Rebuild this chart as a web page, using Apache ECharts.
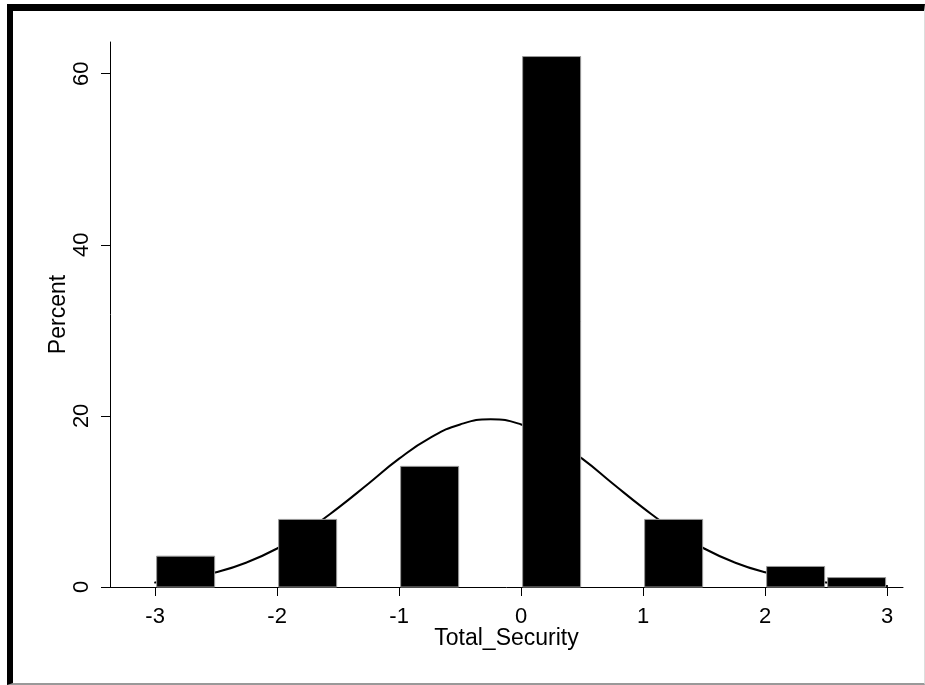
<!DOCTYPE html>
<html>
<head>
<meta charset="utf-8">
<script src="https://cdn.jsdelivr.net/npm/echarts@6/dist/echarts.min.js"></script>
<style>
html, body { margin: 0; padding: 0; background: #fff; }
#chart { position: absolute; left: 0; top: 0; width: 925px; height: 685px; }
#frame { position: absolute; left: 7px; top: 4px; width: 918px; height: 681px; box-sizing: border-box;
  border-top: 7px solid #000; border-left: 6px solid #000; border-bottom: 2px solid #999; border-right: 1px solid #ddd; pointer-events: none; }
</style>
</head>
<body>
<div id="chart"></div>
<div id="frame"></div>
<script>
// Histogram bins (left edge, right edge) and percent heights
const binStart = [-3, -2, -1, 0, 1, 2, 2.5];
const binEnd   = [-2.5, -1.5, -0.5, 0.5, 1.5, 2.5, 3];
const percent  = [3.6, 7.9, 14.1, 62.0, 7.9, 2.4, 1.1];

// Overlaid normal-density curve
const curveX = [-3, -2.75, -2.5, -2.25, -2, -1.75, -1.5, -1.25, -1, -0.75, -0.5, -0.25, 0, 0.25, 0.5, 0.75, 1, 1.25, 1.5, 1.75, 2, 2.25, 2.5, 2.75, 3];
const curveY = [0.52, 0.97, 1.72, 2.87, 4.5, 6.65, 9.25, 12.1, 15.0, 17.4, 19.0, 19.6, 19.0, 17.4, 15.0, 12.1, 9.25, 6.65, 4.5, 2.87, 1.72, 0.97, 0.52, 0.26, 0.12];

const xTicks = [-3, -2, -1, 0, 1, 2, 3];
const yTicks = [0, 20, 40, 60];

const barData = binStart.map((s, i) => [s, binEnd[i], percent[i]]);
const lineData = curveX.map((x, i) => [x, curveY[i]]);

const font = '"Liberation Sans", Arial, Helvetica, sans-serif';
const chart = echarts.init(document.getElementById('chart'), null, { renderer: 'canvas' });
chart.setOption({
  animation: false,
  backgroundColor: '#fff',
  grid: { left: 110, right: 22, top: 42, bottom: 98 },
  xAxis: {
    type: 'value', min: -3.37, max: 3.13,
    name: 'Total_Security', nameLocation: 'middle', nameGap: 40, nameMoveOverlap: false,
    nameTextStyle: { fontFamily: font, fontSize: 23, color: '#000' },
    axisLine: { show: true, onZero: false, lineStyle: { color: '#000', width: 1 } },
    axisTick: { show: true, inside: false, length: 9, customValues: xTicks, lineStyle: { color: '#000' } },
    axisLabel: { customValues: xTicks, margin: 19, fontFamily: font, fontSize: 22, color: '#000' },
    splitLine: { show: false }
  },
  yAxis: {
    type: 'value', min: 0, max: 63.7,
    name: 'Percent', nameLocation: 'middle', nameGap: 40, nameMoveOverlap: false,
    nameTextStyle: { fontFamily: font, fontSize: 23, color: '#000' },
    axisLine: { show: true, onZero: false, lineStyle: { color: '#000', width: 1 } },
    axisTick: { show: true, inside: false, length: 9, customValues: yTicks, lineStyle: { color: '#000' } },
    axisLabel: { customValues: yTicks, rotate: 90, margin: 17, fontFamily: font, fontSize: 22, color: '#000' },
    splitLine: { show: false }
  },
  series: [
    {
      type: 'line', data: lineData, smooth: true, symbol: 'none',
      lineStyle: { color: '#000', width: 2, cap: 'round' }, z: 2
    },
    {
      type: 'custom', data: barData, z: 3,
      encode: { x: [0, 1], y: 2 },
      renderItem: function (params, api) {
        const p0 = api.coord([api.value(0), 0]);
        const p1 = api.coord([api.value(1), api.value(2)]);
        return {
          type: 'rect',
          shape: { x: p0[0] + 1.5, y: p1[1], width: p1[0] - p0[0] - 3, height: p0[1] - p1[1] },
          style: { fill: '#000', stroke: '#999', lineWidth: 1 }
        };
      }
    }
  ]
});
</script>
</body>
</html>
